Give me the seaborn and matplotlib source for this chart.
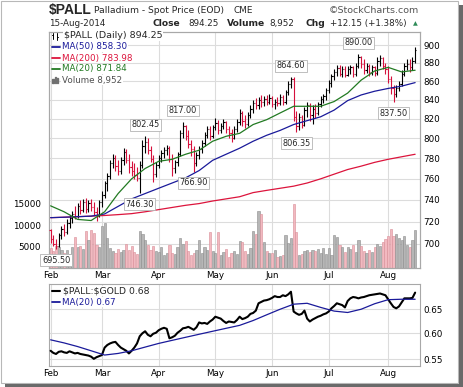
import numpy as np
import pandas as pd
import matplotlib
matplotlib.use("Agg")
import matplotlib.pyplot as plt
import matplotlib.transforms as mtransforms
from matplotlib.patches import Rectangle
from matplotlib.lines import Line2D
from matplotlib.ticker import NullLocator
import seaborn as sns

# trading days Feb 3 - Aug 15 2014
dates = pd.bdate_range("2014-02-03", "2014-08-15", freq="C",
                       holidays=["2014-02-17", "2014-04-18", "2014-05-26", "2014-07-04"])

prev_close = 712.0
opens = [712, 704, 700, 698, 708, 713, 711, 719, 723, 727, 725, 734, 731, 738, 732, 737, 733, 729, 725,
         738, 745, 756, 763, 775, 780, 772, 768, 778, 786, 778, 771, 768, 764, 761, 773, 792, 796, 788, 779, 765,
         773, 780, 785, 788, 790, 779, 770, 776, 784, 805, 812, 802, 794, 789, 775, 783, 789, 795, 803, 809, 802,
         811, 816, 808, 813, 817, 809, 805, 800, 809, 817, 826, 818, 815, 824, 830, 836, 834, 840, 837, 841, 838,
         842, 835, 838, 836, 843, 837, 848, 857, 862, 822, 812, 822, 814, 829, 834, 824, 830, 826, 835, 841, 844,
         850, 858, 865, 870, 874, 868, 873, 867, 873, 875, 868, 877, 886, 879, 872, 877, 870, 875, 869, 882, 885, 876,
         873, 862, 852, 846, 853, 857, 868, 876, 879, 875, 882.1]
highs = [713, 708, 704, 710, 716, 718, 722, 726, 730, 734, 737, 740, 741, 742, 740, 741, 738, 733, 740,
         748, 758, 766, 778, 784, 783, 778, 781, 790, 789, 784, 777, 775, 771, 777, 798, 802.45, 800, 792, 783, 776,
         783, 788, 791, 793, 792, 784, 778, 786, 808, 817, 814, 808, 798, 792, 786, 792, 798, 806, 812, 812, 814,
         821, 819, 816, 820, 818, 812, 809, 812, 820, 830, 828, 824, 827, 834, 840, 842, 843, 845, 844, 845, 846,
         844, 841, 843, 846, 845, 850, 860, 864.6, 864, 828, 826, 824, 832, 838, 836, 834, 835, 838, 844, 846, 852,
         861, 868, 873, 878, 878, 876, 877, 876, 878, 877, 880, 890, 888, 884, 880, 879, 878, 877, 886, 889, 887, 880,
         876, 866, 856, 856, 860, 872, 880, 884, 884, 886, 898]
lows = [701, 698, 695.5, 697, 704, 707, 709, 714, 719, 722, 723, 727, 729, 728, 729, 730, 726, 721, 724,
        733, 742, 748, 760, 770, 768, 764, 765, 773, 775, 766, 763, 760, 758, 746.3, 770, 785, 784, 776, 757, 762,
        770, 776, 780, 783, 776, 763, 766, 772, 782, 800, 798, 790, 782, 766.9, 772, 779, 785, 792, 800, 798, 800,
        808, 804, 805, 809, 805, 800, 796, 799, 806, 814, 813, 810, 812, 821, 826, 830, 830, 832, 833, 834, 835,
        832, 830, 833, 834, 834, 835, 845, 853, 818, 806.35, 808, 810, 812, 822, 818, 815, 821, 824, 832, 836, 840,
        847, 854, 861, 866, 865, 864, 864, 865, 868, 864, 866, 874, 874, 868, 869, 866, 867, 866, 867, 876, 873, 868,
        858, 846, 837.5, 843, 849, 855, 865, 872, 870, 872, 880]
closes = [704, 700, 698, 708, 713, 711, 719, 723, 727, 725, 734, 731, 738, 732, 737, 733, 729, 725, 738,
          745, 756, 763, 775, 780, 772, 768, 778, 786, 778, 771, 768, 764, 761, 773, 792, 796, 788, 779, 765, 773,
          780, 785, 788, 790, 779, 770, 776, 784, 805, 812, 802, 794, 789, 775, 783, 789, 795, 803, 809, 802, 811,
          816, 808, 813, 817, 809, 805, 800, 809, 817, 826, 818, 815, 824, 830, 836, 834, 840, 837, 841, 838, 842,
          835, 838, 836, 843, 837, 848, 857, 862, 822, 812, 822, 814, 829, 834, 824, 830, 826, 835, 841, 844, 850,
          858, 865, 870, 874, 868, 873, 867, 873, 875, 868, 877, 886, 879, 872, 877, 870, 875, 869, 882, 885, 876, 873,
          862, 852, 846, 853, 857, 868, 876, 879, 875, 882.1, 894.25]
volume = [4600, 3900, 5200, 4800, 4100, 3600, 4300, 3200, 5000, 7200, 4800, 5200, 4400, 8600, 6500, 8900, 8200, 5400, 4800,
          9800, 10400, 7000, 4600, 4000, 3600, 4400, 3800, 4100, 5600, 4300, 5100, 3700, 3200, 8600, 7800, 6400, 5400, 4200, 5200, 4000,
          3800, 4800, 3000, 3400, 5400, 3600, 3200, 4800, 7000, 5600, 6200, 4000, 3000, 3600, 4200, 6500, 3600, 5000, 4200, 8400, 4000,
          3600, 8300, 3000, 3800, 4400, 2600, 3400, 4000, 3200, 6200, 6000, 4000, 3200, 4600, 8600, 8000, 13200, 12600, 6000, 4000, 3400,
          3600, 4200, 2600, 2800, 3000, 7600, 5800, 7000, 15000, 8400, 3000, 3300, 3900, 4200, 3800, 4200, 4000, 4400, 3600, 4600, 3200,
          4600, 3000, 7600, 7200, 5400, 5000, 3800, 4800, 4400, 5400, 3800, 6400, 5200, 4000, 3400, 4200, 3800, 5000, 5600, 5200, 6000, 6800,
          7400, 9000, 7400, 7800, 7000, 6600, 7400, 5400, 5000, 6400, 8952]

# moving averages read every 5th bar
ma_20 = [734.5, 729, 722, 721, 729, 746, 760, 770, 777, 779, 784, 788, 797, 802, 805, 814, 819, 826,
         833, 833, 833, 838, 847, 861, 871, 875, 870, 871.84]
ma_50 = [723.6, 724, 724.5, 725, 727, 734, 741, 746, 751, 756, 761, 768, 778, 784, 790, 797, 803, 808,
         814, 818, 822, 829, 839, 845, 849, 852, 854.5, 858.3]
ma_200 = [723.6, 724, 724.5, 725, 725.6, 726.4, 727.3, 729, 731, 733, 735, 736.6, 739, 741, 743, 746.9,
          749, 751, 753, 756, 760, 764.5, 769, 772.3, 776, 779, 781.5, 783.98]

ratio = [0.566, 0.562, 0.560, 0.564, 0.565, 0.563, 0.562, 0.565, 0.563, 0.561, 0.562, 0.560, 0.559, 0.558, 0.557,
         0.555, 0.551, 0.554, 0.556, 0.558, 0.572, 0.577, 0.580, 0.582, 0.583, 0.577, 0.572, 0.569, 0.566, 0.561,
         0.566, 0.572, 0.580, 0.594, 0.600, 0.604, 0.597, 0.594, 0.599, 0.601, 0.606, 0.609, 0.611, 0.609, 0.590,
         0.592, 0.595, 0.601, 0.605, 0.610, 0.611, 0.613, 0.610, 0.607, 0.612, 0.622, 0.620, 0.621, 0.619, 0.624,
         0.628, 0.634, 0.632, 0.630, 0.625, 0.621, 0.624, 0.623, 0.622, 0.627, 0.634, 0.629, 0.631, 0.634, 0.640,
         0.642, 0.647, 0.663, 0.666, 0.669, 0.670, 0.672, 0.675, 0.679, 0.677, 0.677, 0.681, 0.679, 0.683, 0.689,
         0.645, 0.641, 0.638, 0.640, 0.647, 0.630, 0.624, 0.628, 0.631, 0.634, 0.636, 0.639, 0.641, 0.645, 0.652,
         0.657, 0.663, 0.661, 0.659, 0.654, 0.668, 0.674, 0.677, 0.676, 0.674, 0.676, 0.677, 0.679, 0.681, 0.682,
         0.683, 0.684, 0.685, 0.683, 0.681, 0.672, 0.663, 0.655, 0.652, 0.656, 0.665, 0.674, 0.674, 0.674, 0.675,
         0.687]
ratio_ma20 = [0.587, 0.581, 0.574, 0.566, 0.558, 0.561, 0.566, 0.573, 0.580, 0.586, 0.592, 0.598, 0.604, 0.610,
              0.616, 0.626, 0.638, 0.650, 0.661, 0.663, 0.654, 0.646, 0.643, 0.650, 0.662, 0.671, 0.672, 0.672]

price_ticks = list(range(700, 901, 20))
vol_ticks = [5000, 10000, 15000]
ratio_ticks = [0.55, 0.60, 0.65]
labels = [(2, "low"), (33, "low"), (35, "high"), (49, "high"), (53, "low"),
          (89, "high"), (91, "low"), (114, "high"), (127, "low")]

W, H = 464, 387
RED, BLACK = "#d6103c", "#000000"
NAVY, CRIMSON, GREEN = "#1a1a9a", "#dc143c", "#227a22"
GRID = "#dcdcdc"
SPINE = "#a8a8a8"

sns.set_style("white")
plt.rcParams["font.family"] = ["DejaVu Sans"]
FS = 6.3


def fx(x):
    return x / W


def fy(y):
    return 1 - y / H


def main():
    x = np.arange(len(dates))
    o, h, l, c = map(np.asarray, (opens, highs, lows, closes))
    down = np.diff(c, prepend=prev_close) < 0
    bar_cols = np.where(down, RED, BLACK)

    fig = plt.figure(figsize=(W / 100, H / 100), dpi=100)

    # ---- main panel: volume axis underneath, price axis on top
    ax_v = fig.add_axes([fx(49), fy(268), fx(420) - fx(49), fy(32) - fy(268)])
    ax_p = ax_v.twinx()

    ax_v.bar(x, volume, width=0.8, color=np.where(down, "#f2b9c0", "#b6b6b6"),
             edgecolor=np.where(down, "#d88c96", "#8c8c8c"), linewidth=0.4, zorder=2)
    ax_v.set_ylim(0, 54900)
    ax_v.set_yticks(vol_ticks)
    ax_v.set_yticklabels([str(v) for v in vol_ticks])

    ax_p.set_yscale("log")
    ax_p.set_ylim(679, 915)

    # gridlines drawn on the volume axis so they stay behind the bars
    ax_v.set_axisbelow(True)
    ax_v.grid(axis="x", color=GRID, lw=0.8)
    blend = mtransforms.blended_transform_factory(ax_v.transAxes, ax_p.transData)
    for p in price_ticks:
        ax_v.plot([0, 1], [p, p], transform=blend, color=GRID, lw=0.8, zorder=0)

    # OHLC bars
    ax_p.vlines(x, l, h, colors=bar_cols, lw=0.8, zorder=3)
    ax_p.hlines(o, x - 0.45, x, colors=bar_cols, lw=0.8, zorder=3)
    ax_p.hlines(c, x, x + 0.45, colors=bar_cols, lw=0.8, zorder=3)

    xs = x[::5]
    sns.lineplot(x=xs, y=ma_200, ax=ax_p, color=CRIMSON, lw=0.9, zorder=4)
    sns.lineplot(x=xs, y=ma_50, ax=ax_p, color=NAVY, lw=0.9, zorder=4)
    sns.lineplot(x=xs, y=ma_20, ax=ax_p, color=GREEN, lw=0.9, zorder=4)

    ax_p.set_yticks(price_ticks)
    ax_p.set_yticklabels([str(p) for p in price_ticks])
    ax_p.yaxis.set_minor_locator(NullLocator())
    ax_p.set_ylabel("")

    for i, kind in labels:
        val = h[i] if kind == "high" else l[i]
        off = 8 if kind == "high" else -8
        ax_p.annotate(f"{val:.2f}", xy=(i, val), xytext=(0, off), textcoords="offset points",
                      ha="center", va="center", fontsize=5.9, annotation_clip=False, zorder=6,
                      bbox=dict(boxstyle="square,pad=0.18", fc="white", ec="#b4b4b4", lw=0.6))

    month_pos = [0] + [i for i in range(1, len(dates)) if dates[i].month != dates[i - 1].month]
    month_lab = [dates[i].strftime("%b") for i in month_pos]
    for ax in (ax_v, ax_p):
        ax.set_xlim(-0.6, 136.8)
    ax_v.set_xticks(month_pos)
    ax_v.set_xticklabels(month_lab)

    # ---- lower panel: ratio to gold
    ax_r = fig.add_axes([fx(49), fy(366), fx(420) - fx(49), fy(284) - fy(366)])
    ax_r.set_axisbelow(True)
    ax_r.grid(True, color=GRID, lw=0.8)
    sns.lineplot(x=x, y=ratio, ax=ax_r, color="black", lw=1.5, zorder=3)
    sns.lineplot(x=xs, y=ratio_ma20, ax=ax_r, color=NAVY, lw=0.9, zorder=4)
    ax_r.set_yscale("log")
    ax_r.set_ylim(0.538, 0.707)
    ax_r.set_yticks(ratio_ticks)
    ax_r.set_yticklabels([f"{v:.2f}" for v in ratio_ticks])
    ax_r.yaxis.set_minor_locator(NullLocator())
    ax_r.yaxis.tick_right()
    ax_r.set_xlim(-0.6, 136.8)
    ax_r.set_xticks(month_pos)
    ax_r.set_xticklabels(month_lab)
    ax_r.set_ylabel("")

    for ax in (ax_v, ax_p, ax_r):
        for s in ax.spines.values():
            s.set_color(SPINE)
            s.set_linewidth(0.8)
        ax.tick_params(labelsize=FS, length=0, pad=2.5, colors="black")
    ax_v.tick_params(axis="y", pad=6)

    # ---- header texts
    fig.text(fx(49), fy(10), "\\$PALL", fontsize=10, fontweight="bold",
             family="Liberation Sans", va="center", ha="left")
    fig.text(fx(94), fy(10.5), "Palladium - Spot Price (EOD)", fontsize=6.6, va="center")
    fig.text(fx(234), fy(10.5), "CME", fontsize=6.4, va="center")
    fig.text(fx(419), fy(10.5), "\u00a9StockCharts.com", fontsize=6.8, va="center",
             ha="right", color="#555555")
    row = fy(23.5)
    fig.text(fx(49), row, "15-Aug-2014", fontsize=FS, va="center")
    fig.text(fx(153), row, "Close", fontsize=FS + 0.3, fontweight="bold", va="center")
    fig.text(fx(188), row, "894.25", fontsize=FS, va="center")
    fig.text(fx(227), row, "Volume", fontsize=FS + 0.3, fontweight="bold", va="center")
    fig.text(fx(269), row, "8,952", fontsize=FS, va="center")
    fig.text(fx(306), row, "Chg", fontsize=FS + 0.3, fontweight="bold", va="center")
    fig.text(fx(330), row, "+12.15 (+1.38%)", fontsize=FS, va="center")
    fig.text(fx(415), row, "\u25b2", fontsize=4.5, va="center", ha="center", color="#2e8b57")

    # ---- legend inside main panel
    tb = dict(fc="white", ec="none", pad=0.6)
    fig.add_artist(Line2D([fx(53), fx(53)], [fy(33), fy(39)], color="black", lw=0.7))
    fig.add_artist(Line2D([fx(57), fx(57)], [fy(32.5), fy(39.5)], color="black", lw=0.7))
    fig.add_artist(Line2D([fx(52), fx(53)], [fy(35), fy(35)], color="black", lw=0.7))
    fig.add_artist(Line2D([fx(57), fx(58)], [fy(37), fy(37)], color="black", lw=0.7))
    fig.text(fx(64), fy(36), "\\$PALL (Daily) 894.25", fontsize=6.8, va="center", bbox=tb)
    rows = [(47, "MA(50) 858.30", NAVY), (58, "MA(200) 783.98", CRIMSON), (69, "MA(20) 871.84", GREEN)]
    for yy, s, col in rows:
        fig.add_artist(Line2D([fx(52), fx(60)], [fy(yy), fy(yy)], color=col, lw=1.3))
        fig.text(fx(62), fy(yy), s, fontsize=FS, va="center", color=col, bbox=tb)
    for k, hh in enumerate([4, 6, 5]):
        fig.add_artist(Rectangle((fx(52.5 + k * 2.2), fy(83)), 1.6 / W, hh / H,
                                 transform=fig.transFigure, color="#707070"))
    fig.text(fx(62), fy(80), "Volume 8,952", fontsize=FS, va="center", color="#505050", bbox=tb)

    # ---- legend inside lower panel
    fig.add_artist(Line2D([fx(52), fx(60)], [fy(291), fy(291)], color="black", lw=1.5))
    fig.text(fx(63), fy(291), "\\$PALL:\\$GOLD 0.68", fontsize=FS + 0.4, va="center", bbox=tb)
    fig.add_artist(Line2D([fx(52), fx(60)], [fy(302), fy(302)], color=NAVY, lw=1.3))
    fig.text(fx(62), fy(302), "MA(20) 0.67", fontsize=FS, va="center", color=NAVY, bbox=tb)

    # ---- outer frame with drop shadow
    fig.add_artist(Rectangle((0.5 / W, fy(383)), 457.5 / W, 382.5 / H, transform=fig.transFigure,
                             fc="none", ec="#b8b8b8", lw=0.8))
    fig.add_artist(Rectangle((459 / W, 0), 4 / W, 382 / H, transform=fig.transFigure,
                             color="#6a6a6a", lw=0))
    fig.add_artist(Rectangle((5 / W, 0), 458 / W, 3.5 / H, transform=fig.transFigure,
                             color="#6a6a6a", lw=0))

    fig.savefig("out.png", dpi=100, facecolor="white")


if __name__ == "__main__":
    main()
